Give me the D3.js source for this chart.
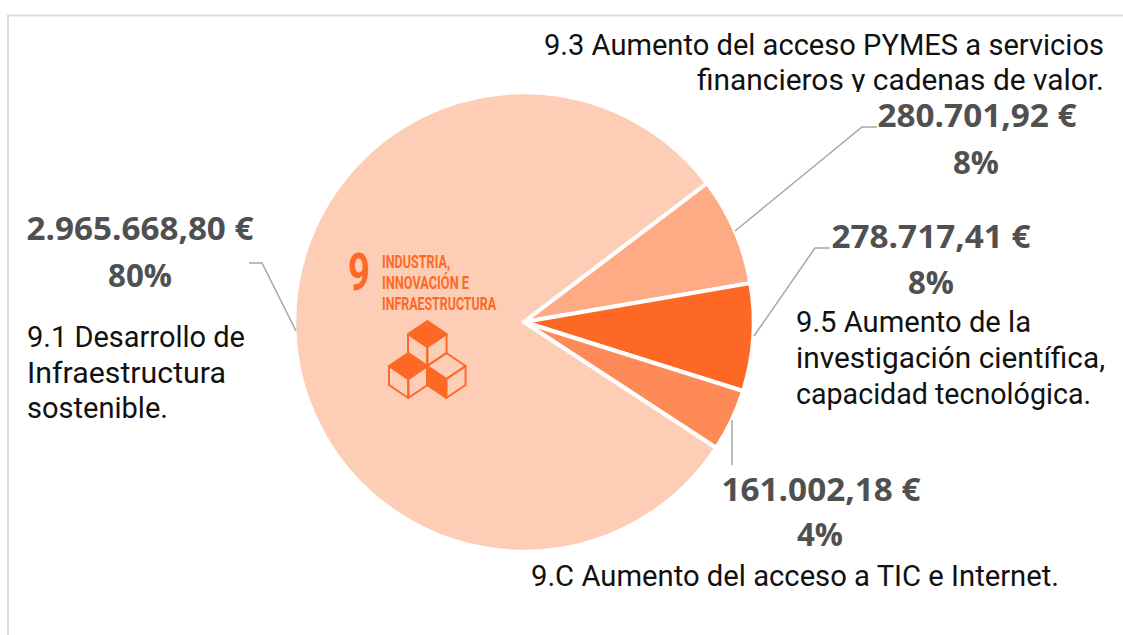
<!DOCTYPE html>
<html><head><meta charset="utf-8">
<script src="https://cdn.jsdelivr.net/npm/d3@7"></script>
<style>
html,body{margin:0;padding:0;background:#fff;overflow:hidden}
svg{display:block}
.amt{font-family:"Open Sans",sans-serif;font-weight:700;font-size:33px;fill:#505050;text-anchor:middle}
.desc{font-family:"Roboto",sans-serif;font-weight:400;font-size:29px;fill:#111}
.logo{font-family:"Liberation Sans Narrow","Roboto",sans-serif;font-weight:700;fill:#fd6925}
</style></head><body>
<svg id="c" width="1123" height="635"></svg>
<script>
const categories = ["9.1","9.3","9.5","9.C"];
const values = [2965668.80, 280701.92, 278717.41, 161002.18];
const amounts = ["2.965.668,80 €","280.701,92 €","278.717,41 €","161.002,18 €"];
const percents = ["80%","8%","8%","4%"];
const colors = ["#fecdb6","#feaa85","#fd6925","#fe8b57"];
const descriptions = [
 ["9.1 Desarrollo de","Infraestructura","sostenible."],
 ["9.3 Aumento del acceso PYMES a servicios","financieros y cadenas de valor."],
 ["9.5 Aumento de la","investigación científica,","capacidad tecnológica."],
 ["9.C Aumento del acceso a TIC e Internet."]
];
const logoLines = ["INDUSTRIA,","INNOVACIÓN E","INFRAESTRUCTURA"];

const svg = d3.select("#c");
svg.append("defs").append("clipPath").attr("id","clipTop").append("rect")
  .attr("x",500).attr("y",20).attr("width",623).attr("height",72);

// frame
svg.append("path").attr("d","M8,635V15.5H1123").attr("fill","none").attr("stroke","#dcdcdc").attr("stroke-width",2);

// pie
const cx=524, cy=322, R=229.7;
const start = 123.2*Math.PI/180;
const pie = d3.pie().sort(null).startAngle(start).endAngle(start+2*Math.PI);
const arc = d3.arc().innerRadius(0).outerRadius(R);
const arcs = pie(values);
svg.append("g").attr("transform",`translate(${cx},${cy})`)
  .selectAll("path").data(arcs).join("path")
  .attr("d",arc).attr("fill",(d,i)=>colors[i]).attr("stroke","#fff").attr("stroke-width",4).attr("stroke-linejoin","miter");

// leader lines
const leaders = [
 [[249,263],[262,263],[296,331]],
 [[735,231],[862,127],[877,127]],
 [[754,336],[815,248],[830,248]],
 [[732,420],[732,465]]
];
const line = d3.line();
svg.append("g").selectAll("path").data(leaders).join("path")
  .attr("d",line).attr("fill","none").attr("stroke","#a6a6a6").attr("stroke-width",1.5);

// amount + percent labels
const amtPos = [[140,240,227],[977,127,199],[931,248,199],[821,501,199]];
const pctPos = [[140,287,64],[976,174,46],[931,294,46],[820,546,46]];
const A = svg.append("g");
amounts.forEach((t,i)=>{
  A.append("text").attr("class","amt").attr("x",amtPos[i][0]).attr("y",amtPos[i][1])
   .attr("textLength",amtPos[i][2]).attr("lengthAdjust","spacingAndGlyphs").text(t);
  A.append("text").attr("class","amt").attr("x",pctPos[i][0]).attr("y",pctPos[i][1])
   .attr("textLength",pctPos[i][2]).attr("lengthAdjust","spacingAndGlyphs").text(percents[i]);
});

// descriptions
const descPos = [
 {x:27,a:"start",y:[347,383,418],w:[218,199,141]},
 {x:1104,a:"end",y:[55,90],w:[560,407]},
 {x:796,a:"start",y:[332,368,404],w:[235,309,295]},
 {x:531,a:"start",y:[586],w:[528]}
];
const D = svg.append("g");
descriptions.forEach((lines,i)=>{
  const p = descPos[i];
  const g = i===1 ? D.append("g").attr("clip-path","url(#clipTop)") : D;
  lines.forEach((t,j)=>{
    g.append("text").attr("class","desc").attr("x",p.x).attr("y",p.y[j]).attr("text-anchor",p.a)
     .attr("textLength",p.w[j]).attr("lengthAdjust","spacingAndGlyphs").text(t);
  });
});

// SDG 9 logo
const L = svg.append("g");
L.append("text").attr("class","logo").attr("x",348).attr("y",290).attr("font-size",52)
  .attr("textLength",22).attr("lengthAdjust","spacingAndGlyphs").text("9");
const logoW=[68,87,114];
logoLines.forEach((t,i)=>{
  L.append("text").attr("class","logo").attr("x",382).attr("y",[267.5,289,310][i])
   .attr("font-size",18).attr("textLength",logoW[i]).attr("lengthAdjust","spacingAndGlyphs").text(t);
});
// cubes: isometric outline
const cube = (x,y,fillFace)=>{
  const w=19.3,h=13,d=19;
  const pts={
    top:`M${x},${y}L${x+w},${y-h}L${x+2*w},${y}L${x+w},${y+h}Z`,
    left:`M${x},${y}L${x+w},${y+h}V${y+h+d}L${x},${y+d}Z`,
    right:`M${x+w},${y+h}L${x+2*w},${y}V${y+d}L${x+w},${y+h+d}Z`
  };
  ["top","left","right"].forEach(f=>{
    L.append("path").attr("d",pts[f])
     .attr("fill",f===fillFace?"#fd6925":"none")
     .attr("stroke","#fd6925").attr("stroke-width",2).attr("stroke-linejoin","round");
  });
};
cube(408,334,"top");
cube(389,366,"top");
cube(427,366,"left");
</script>
</body></html>
